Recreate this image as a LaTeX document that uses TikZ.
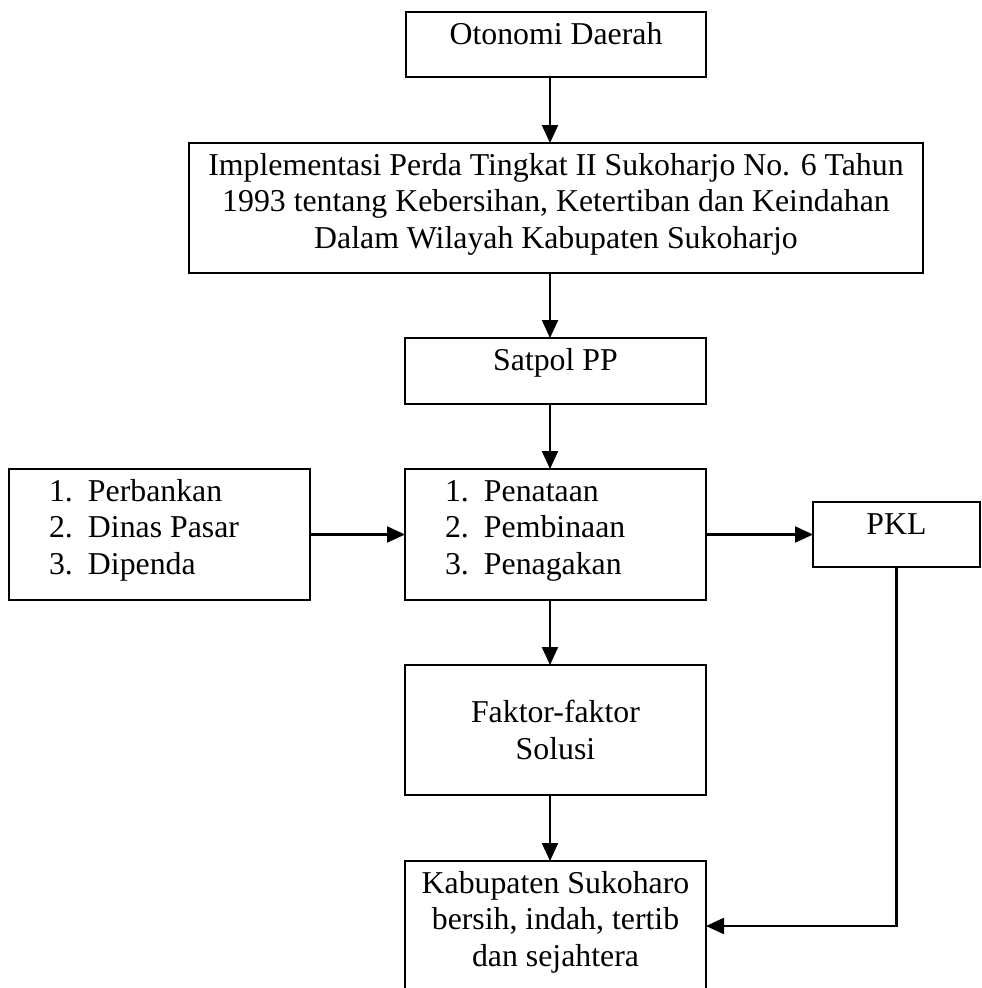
\documentclass[tikz,border=0pt]{standalone}
\usepackage{fontspec}
\setmainfont{Liberation Serif}
\usepackage{tikz}
\usetikzlibrary{arrows.meta}
\tikzstyle{kotak}=[draw,rectangle,line width=1.8pt,inner sep=0pt,outer sep=0pt]
\tikzstyle{panah}=[-{Triangle[length=18pt,width=16pt]},line width=2.2pt]
\newcommand{\atas}{\vspace*{6.5pt}\strut}
\newcommand{\butir}[2]{\hspace*{40pt}\makebox[39pt][l]{#1}#2}

\begin{document}
\begin{tikzpicture}[x=1pt,y=-1pt,font=\fontsize{31.8}{36.5}\selectfont]
    \useasboundingbox (0,0) rectangle (982,988);
    \coordinate (poros) at (550,0);

    \node[kotak] (otda) at (556,44.5) {\parbox[t][65pt][t]{300pt}{\centering\atas Otonomi Daerah}};
    \node[kotak] (perda) at (556,208) {\parbox[t][130pt][t]{734pt}{\centering\atas Implementasi Perda Tingkat II Sukoharjo No. 6 Tahun\\ 1993 tentang Kebersihan, Ketertiban dan Keindahan\\ Dalam Wilayah Kabupaten Sukoharjo}};
    \node[kotak] (satpol) at (555.5,371) {\parbox[t][66pt][t]{301pt}{\centering\atas Satpol PP}};

    \node[kotak] (mitra) at (159.5,534.5) {\parbox[t][131pt][t]{301pt}{\atas\butir{1.}{Perbankan}\\ \butir{2.}{Dinas Pasar}\\ \butir{3.}{Dipenda}}};
    \node[kotak] (tindak) at (555.5,534.5) {\parbox[t][131pt][t]{301pt}{\atas\butir{1.}{Penataan}\\ \butir{2.}{Pembinaan}\\ \butir{3.}{Penagakan}}};
    \node[kotak] (pkl) at (896.5,534.5) {\parbox[t][65pt][t]{167pt}{\centering\atas PKL}};

    \node[kotak] (faktor) at (555.5,730) {\parbox[c][130pt][c]{301pt}{\centering Faktor-faktor\\ Solusi}};
    \node[kotak] (kab) at (555.5,926) {\parbox[t][130pt][t]{301pt}{\centering\atas Kabupaten Sukoharo\\ bersih, indah, tertib\\ dan sejahtera}};

    \draw[panah] (otda.south -| poros) -- (perda.north -| poros);
    \draw[panah] (perda.south -| poros) -- (satpol.north -| poros);
    \draw[panah] (satpol.south -| poros) -- (tindak.north -| poros);
    \draw[panah] (tindak.south -| poros) -- (faktor.north -| poros);
    \draw[panah] (faktor.south -| poros) -- (kab.north -| poros);

    \draw[panah] (mitra.east) -- (tindak.west);
    \draw[panah] (tindak.east) -- (pkl.west);
    \draw[panah] (pkl.south) |- (kab.east);
\end{tikzpicture}
\end{document}
